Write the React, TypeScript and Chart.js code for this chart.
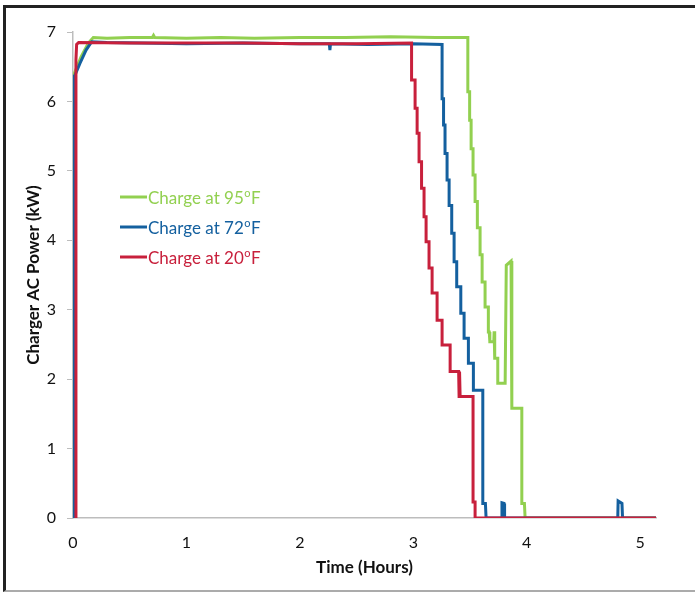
import { useEffect, useRef } from 'react';
import { Chart, registerables } from 'chart.js';
Chart.register(...registerables);

const temps = [95, 72, 20];
const colors = ['#92d050', '#14609f', '#c8203c'];
const xTicks = [0, 1, 2, 3, 4, 5];
const yTicks = [0, 1, 2, 3, 4, 5, 6, 7];

// Charge at 95 F
const t95 = [0, 0.003, 0.018, 0.071, 0.135, 0.179, 0.3, 0.5, 0.70, 0.71, 0.72, 1.0, 1.3, 1.6, 2.0, 2.4, 2.8, 3.2,
  3.481, 3.481, 3.497, 3.497, 3.510, 3.510, 3.527, 3.527, 3.545, 3.545, 3.565, 3.565, 3.589, 3.589, 3.607, 3.607,
  3.633, 3.633, 3.662, 3.662, 3.670, 3.675, 3.710, 3.713, 3.717, 3.719, 3.745, 3.745, 3.810, 3.820, 3.862, 3.869,
  3.957, 3.957, 3.980, 3.986, 5.14];
const kw95 = [0, 6.36, 6.43, 6.64, 6.84, 6.92, 6.91, 6.92, 6.92, 6.95, 6.92, 6.91, 6.92, 6.91, 6.92, 6.92, 6.93, 6.92,
  6.92, 6.14, 6.14, 5.73, 5.73, 5.32, 5.32, 4.94, 4.94, 4.56, 4.56, 4.18, 4.18, 3.79, 3.79, 3.40,
  3.40, 3.04, 3.04, 2.68, 2.68, 2.54, 2.54, 2.69, 2.69, 2.30, 2.30, 1.94, 1.94, 3.64, 3.70, 1.58,
  1.58, 0.21, 0.21, 0, 0];

// Charge at 72 F
const t72 = [0, 0.005, 0.018, 0.062, 0.115, 0.165, 0.3, 0.6, 1.0, 1.5, 2.0, 2.26, 2.265, 2.27, 2.6, 3.0,
  3.254, 3.254, 3.267, 3.267, 3.280, 3.280, 3.298, 3.298, 3.316, 3.316, 3.339, 3.339, 3.360, 3.360, 3.383, 3.383,
  3.419, 3.419, 3.448, 3.448, 3.486, 3.486, 3.530, 3.530, 3.613, 3.613, 3.636, 3.642,
  3.780, 3.782, 3.800, 3.805, 4.803, 4.806, 4.840, 4.845, 5.14];
const kw72 = [0, 6.35, 6.38, 6.55, 6.74, 6.86, 6.85, 6.84, 6.83, 6.84, 6.83, 6.83, 6.74, 6.83, 6.82, 6.83,
  6.82, 6.04, 6.04, 5.66, 5.66, 5.25, 5.25, 4.87, 4.87, 4.50, 4.50, 4.10, 4.10, 3.69, 3.69, 3.33,
  3.33, 2.95, 2.95, 2.59, 2.59, 2.23, 2.23, 1.84, 1.84, 0.21, 0.21, 0,
  0, 0.22, 0.21, 0, 0, 0.245, 0.21, 0, 0];

// Charge at 20 F
const t20 = [0.018, 0.026, 0.032, 0.05, 0.5, 1.0, 1.5, 2.0, 2.5,
  2.985, 2.985, 3.016, 3.016, 3.034, 3.034, 3.051, 3.051, 3.073, 3.073, 3.095, 3.095, 3.113, 3.113,
  3.139, 3.139, 3.166, 3.166, 3.210, 3.210, 3.254, 3.254, 3.325, 3.325, 3.400, 3.404, 3.408, 3.413,
  3.527, 3.527, 3.545, 3.545, 5.14];
const kw20 = [0, 6.6, 6.82, 6.85, 6.84, 6.84, 6.84, 6.83, 6.83,
  6.84, 6.31, 6.31, 5.90, 5.90, 5.54, 5.54, 5.13, 5.13, 4.75, 4.75, 4.34, 4.34, 3.98,
  3.98, 3.60, 3.60, 3.24, 3.24, 2.85, 2.85, 2.49, 2.49, 2.11, 2.11, 1.75, 2.11, 1.75,
  1.75, 0.23, 0.23, 0, 0];

const seriesT = [t95, t72, t20];
const seriesKW = [kw95, kw72, kw20];

const FONT = 'Lato, "Open Sans", sans-serif';

const insideLegend = {
  id: 'insideLegend',
  afterDatasetsDraw(chart: any) {
    const { ctx, chartArea } = chart;
    chart.data.datasets.forEach((ds: any, i: number) => {
      const y = chartArea.top + 165 + i * 30;
      const x0 = chartArea.left + 47;
      ctx.save();
      ctx.strokeStyle = ds.borderColor;
      ctx.lineWidth = 3;
      ctx.beginPath();
      ctx.moveTo(x0, y);
      ctx.lineTo(x0 + 27, y);
      ctx.stroke();
      ctx.fillStyle = ds.borderColor;
      ctx.textBaseline = 'alphabetic';
      ctx.textAlign = 'left';
      ctx.font = `17px ${FONT}`;
      const main = `Charge at ${temps[i]}`;
      let x = x0 + 28;
      ctx.fillText(main, x, y + 6.5);
      x += ctx.measureText(main).width + 0.5;
      ctx.font = `11px ${FONT}`;
      ctx.fillText('o', x, y);
      x += ctx.measureText('o').width + 0.5;
      ctx.font = `17px ${FONT}`;
      ctx.fillText('F', x, y + 6.5);
      ctx.restore();
    });
  },
};

export default function App() {
  const ref = useRef<HTMLCanvasElement | null>(null);
  useEffect(() => {
    if (!ref.current) return;
    const datasets = temps.map((tp, i) => ({
      label: `Charge at ${tp}ºF`,
      data: seriesT[i].map((t, j) => ({ x: t, y: seriesKW[i][j] })),
      borderColor: colors[i],
      backgroundColor: colors[i],
      borderWidth: 3,
      pointRadius: 0,
      tension: 0,
      fill: false,
      order: 2 - i,
    }));
    const chart = new Chart(ref.current, {
      type: 'line',
      data: { datasets },
      plugins: [insideLegend],
      options: {
        animation: false,
        responsive: false,
        maintainAspectRatio: false,
        layout: { padding: { top: 32, right: 39, left: 0, bottom: 0 } },
        plugins: { legend: { display: false }, tooltip: { enabled: false } },
        scales: {
          x: {
            type: 'linear',
            min: 0,
            max: 5.14,
            afterFit: (s: any) => { s.height = 75; },
            afterBuildTicks: (s: any) => { s.ticks = xTicks.map((v) => ({ value: v })); },
            ticks: { stepSize: 1, includeBounds: false, padding: 15, color: '#111', font: { family: FONT, size: 16 } },
            grid: { display: true, drawOnChartArea: false, drawTicks: false, color: '#bdbdbd' },
            border: { display: true, color: '#bdbdbd', width: 1.5 },
            title: { display: true, text: 'Time (Hours)', color: '#111', font: { family: FONT, size: 17, weight: 'bold' }, padding: { top: 0, bottom: 15 } },
          },
          y: {
            type: 'linear',
            min: 0,
            max: 7,
            afterFit: (s: any) => { s.width = 73; },
            afterBuildTicks: (s: any) => { s.ticks = yTicks.map((v) => ({ value: v })); },
            ticks: { stepSize: 1, padding: 11, color: '#111', font: { family: FONT, size: 16 } },
            grid: { display: true, drawOnChartArea: false, drawTicks: true, tickLength: 6, color: '#bdbdbd' },
            border: { display: true, color: '#bdbdbd', width: 1.5 },
            title: { display: true, text: 'Charger AC Power (kW)', color: '#111', font: { family: FONT, size: 17, weight: 'bold' }, padding: { top: 23, bottom: 0 } },
          },
        },
      },
    });
    return () => chart.destroy();
  }, []);
  return (
    <div style={{ position: 'absolute', left: 0, top: 0, width: 695, height: 593, background: '#fff', overflow: 'hidden' }}>
      <div style={{ position: 'absolute', left: 3, top: 5, width: 700, height: 582, borderLeft: '3px solid #222', borderTop: '3px solid #222', borderBottom: '2px solid #ababab', boxSizing: 'content-box' }} />
      <canvas ref={ref} width={695} height={593} style={{ position: 'absolute', left: 0, top: 0, width: 695, height: 593 }} />
    </div>
  );
}
